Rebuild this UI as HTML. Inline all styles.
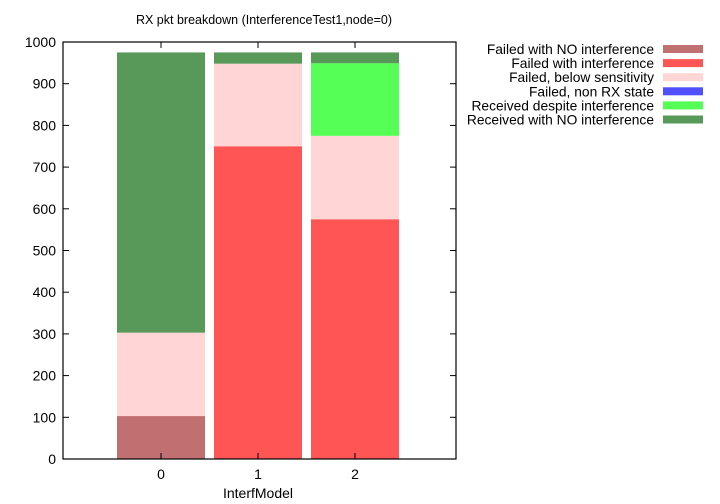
<!DOCTYPE html>
<html><head><meta charset="utf-8"><style>
body{margin:0;background:#fff;}
svg{display:block;font-family:"Liberation Sans",sans-serif;}
</style></head><body>
<svg id="chart" width="720" height="504" viewBox="0 0 720 504"></svg>
<script>
const categories=["0","1","2"];
const seriesNames=["Failed with NO interference","Failed with interference","Failed, below sensitivity","Failed, non RX state","Received despite interference","Received with NO interference"];
const seriesColors=["#c07070","#ff5555","#ffd5d5","#5050ff","#55ff55","#589858"];
const failedNoInterf=[103,0,0];
const failedInterf=[0,750,575];
const failedBelowSens=[200,198,200];
const failedNonRx=[0,0,0];
const receivedDespite=[0,0,174];
const receivedNoInterf=[672,27,26];
const yTicks=[0,100,200,300,400,500,600,700,800,900,1000];
const series=[failedNoInterf,failedInterf,failedBelowSens,failedNonRx,receivedDespite,receivedNoInterf];

const NS="http://www.w3.org/2000/svg";
const svg=document.getElementById('chart');
const L=63,R=456,T=42,B=459,yMax=1000;
const y=v=>B-(v/yMax)*(B-T);
const x=i=>161+97*i;
const barW=88;
function el(tag,attrs,txt){const e=document.createElementNS(NS,tag);for(const k in attrs)e.setAttribute(k,attrs[k]);if(txt!==undefined)e.textContent=txt;svg.appendChild(e);return e;}

const title=el('text',{x:264,y:24,'text-anchor':'middle','font-size':12.5},'RX pkt breakdown (InterferenceTest1,node=0)');



categories.forEach((c,i)=>{
  let acc=0;
  series.forEach((s,k)=>{
    const v=s[i];
    if(v<=0)return;
    const r=el('rect',{x:x(i)-barW/2,y:y(acc+v),width:barW,height:y(acc)-y(acc+v),fill:seriesColors[k]});
    
    
    acc+=v;
  });
  const t=el('text',{x:x(i),y:479,'text-anchor':'middle','font-size':14},c);
  
  
  el('line',{x1:x(i),x2:x(i),y1:B,y2:B-6,stroke:'#000'});
  el('line',{x1:x(i),x2:x(i),y1:T,y2:T+6,stroke:'#000'});
});

yTicks.forEach(v=>{
  el('line',{x1:L,x2:L+6,y1:y(v),y2:y(v),stroke:'#000'});
  el('line',{x1:R,x2:R-6,y1:y(v),y2:y(v),stroke:'#000'});
  const t=el('text',{x:L-7,y:y(v)+5,'text-anchor':'end','font-size':14},String(v));
  
  
});
const frame=el('rect',{x:L,y:T,width:R-L,height:B-T,fill:'none',stroke:'#000','stroke-width':1.2});



const xt=el('text',{x:258,y:498,'text-anchor':'middle','font-size':14},'InterfModel');



seriesNames.forEach((n,k)=>{
  const yy=49+k*14.1;
  const t=el('text',{x:654,y:yy+5,'text-anchor':'end','font-size':13.8},n);
  
  
  const s=el('rect',{x:663,y:yy-4,width:40,height:8,fill:seriesColors[k]});
  
  
});
</script>
</body></html>
